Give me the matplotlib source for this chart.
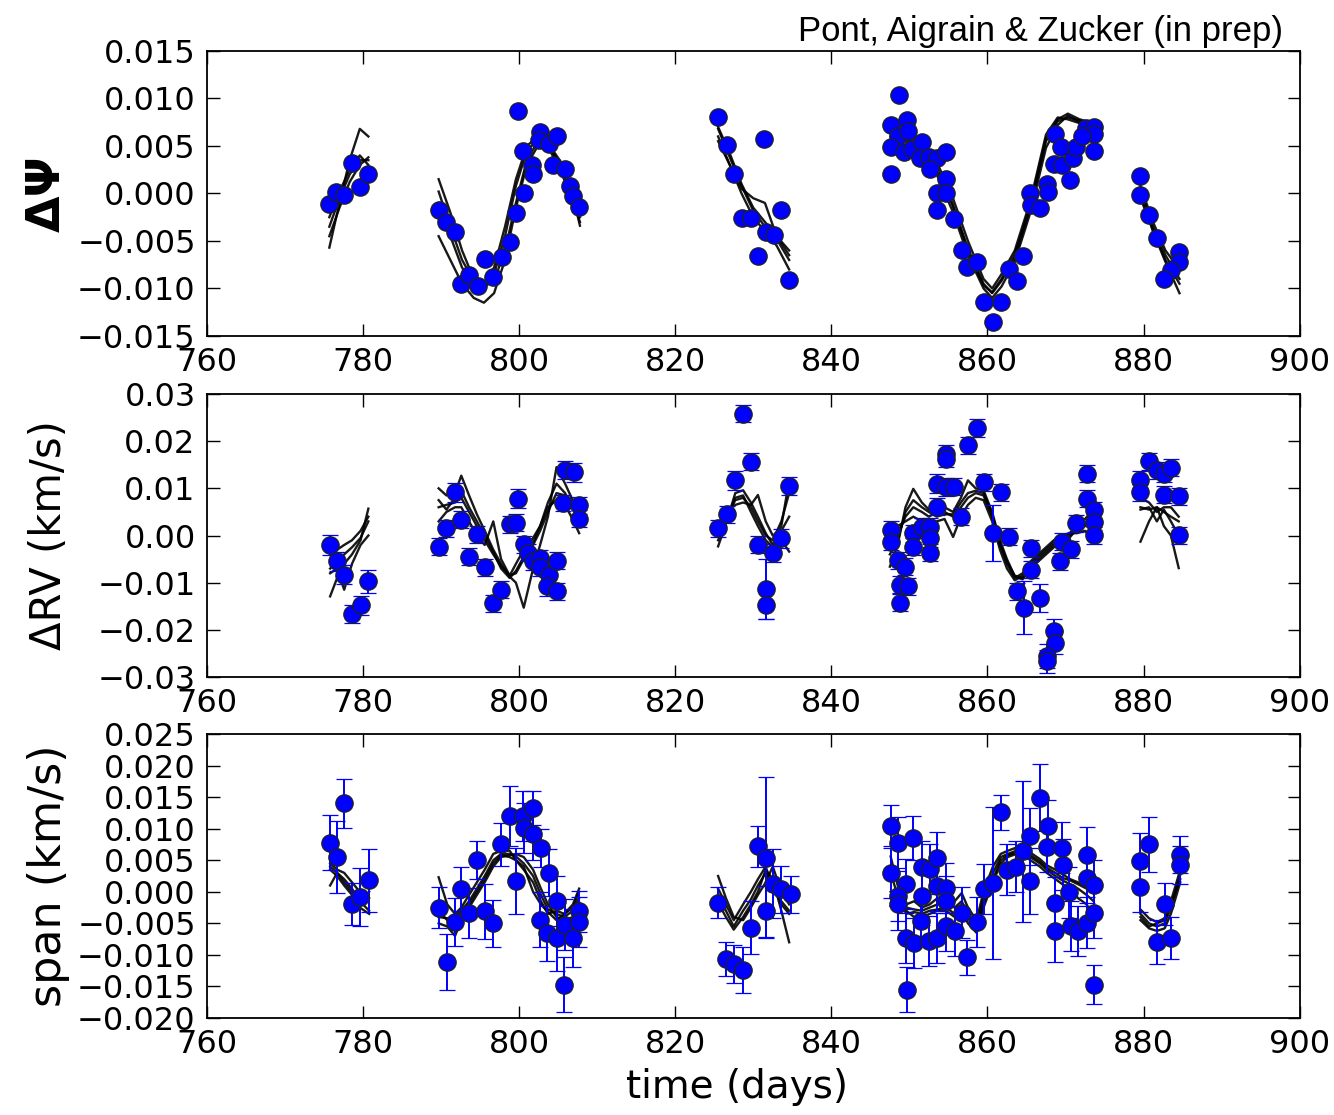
import matplotlib
matplotlib.use("Agg")
import matplotlib.pyplot as plt
from matplotlib.ticker import FuncFormatter

# ---------------- data ----------------
# top panel: Delta Psi (no error bars)
psi_t = [775.7, 776.6, 777.6, 778.6, 779.6, 780.7,
         789.7, 790.7, 791.8, 792.6, 793.6, 794.7, 795.6, 796.7, 797.8, 798.8, 799.6, 799.9, 800.6,
         800.5, 801.6, 801.8, 802.7, 802.6, 803.8, 804.8, 804.4, 805.9, 806.5, 806.9, 807.7,
         825.5, 826.6, 827.5, 828.6, 829.7, 830.6, 831.4, 831.6, 832.6, 833.6, 834.6,
         848.7, 847.6, 849.7, 848.5, 849.8, 847.6, 849.3, 847.6, 850.3, 851.6, 851.4, 852.5,
         853.6, 854.7, 852.7, 854.7, 853.6, 854.7, 853.6, 855.7, 856.7, 857.4, 858.6, 859.6,
         861.7, 860.7, 862.8, 863.8, 864.6, 865.5, 865.6, 866.7, 868.7, 869.4, 868.5, 869.6,
         867.6, 867.7, 870.9, 870.6, 871.4, 872.6, 873.6, 873.6, 873.6, 872.1,
         879.6, 879.6, 880.7, 881.7, 884.5, 884.5, 883.5, 882.6]
psi_v = [-0.0011, 0.0002, -0.0002, 0.0032, 0.0007, 0.0021,
         -0.0017, -0.0030, -0.0041, -0.0095, -0.0086, -0.0097, -0.0069, -0.0088, -0.0067, -0.0051,
         -0.0021, 0.0087, 0.0000, 0.0045, 0.0030, 0.0021, 0.0065, 0.0056, 0.0052, 0.0061, 0.0030,
         0.0026, 0.0008, -0.0003, -0.0014,
         0.0081, 0.0051, 0.0020, -0.0026, -0.0026, -0.0066, 0.0057, -0.0041, -0.0044, -0.0017, -0.0091,
         0.0104, 0.0072, 0.0077, 0.0061, 0.0066, 0.0049, 0.0044, 0.0020, 0.0047, 0.0054, 0.0037, 0.0038,
         0.0037, 0.0044, 0.0026, 0.0015, 0.0000, 0.0000, -0.0017, -0.0027, -0.0060, -0.0077, -0.0072,
         -0.0114, -0.0114, -0.0135, -0.0079, -0.0092, -0.0066, 0.0001, -0.0012, -0.0015, 0.0063,
         0.0049, 0.0031, 0.0030, 0.0010, 0.0002, 0.0037, 0.0014, 0.0049, 0.0069, 0.0070, 0.0063,
         0.0045, 0.0061,
         0.0018, -0.0002, -0.0023, -0.0047, -0.0062, -0.0072, -0.0081, -0.0090]

# middle panel: Delta RV (km/s)
rv_t = [775.8, 776.7, 777.6, 778.6, 779.7, 780.7,
        789.7, 790.7, 791.8, 792.6, 793.6, 794.6, 795.6, 796.7, 797.7, 798.8, 799.6, 799.9, 800.6,
        801.2, 801.8, 802.7, 802.7, 803.8, 803.6, 804.8, 804.8, 805.6, 805.9, 807.0, 807.7, 807.7,
        825.5, 826.6, 827.7, 828.7, 829.7, 830.6, 831.6, 831.6, 832.5, 833.6, 834.6,
        847.6, 847.6, 848.6, 849.5, 848.8, 849.8, 848.8, 850.5, 850.5, 851.6, 852.6, 852.6, 852.6,
        853.6, 853.6, 854.7, 855.7, 854.7, 854.7, 856.6, 857.5, 858.6, 859.6, 861.7, 860.7, 862.7,
        863.8, 864.7, 865.6, 865.6, 866.7, 868.5, 868.6, 867.6, 867.6, 869.3, 869.5, 870.7, 871.4,
        872.7, 872.7, 873.6, 873.6, 873.6,
        879.6, 879.6, 880.7, 881.7, 882.6, 883.5, 882.6, 884.5, 884.5]
rv_v = [-0.0020, -0.0055, -0.0083, -0.0166, -0.0148, -0.0097,
        -0.0024, 0.0015, 0.0092, 0.0033, -0.0045, 0.0003, -0.0067, -0.0144, -0.0115, 0.0024, 0.0027,
        0.0078, -0.0018, -0.0037, -0.0055, -0.0048, -0.0067, -0.0083, -0.0108, -0.0053, -0.0118,
        0.0069, 0.0139, 0.0134, 0.0064, 0.0036,
        0.0015, 0.0045, 0.0117, 0.0258, 0.0156, -0.0020, -0.0113, -0.0148, -0.0037, -0.0006, 0.0105,
        0.0012, -0.0013, -0.0052, -0.0066, -0.0104, -0.0108, -0.0143, 0.0005, -0.0024, 0.0019, 0.0019,
        -0.0006, -0.0037, 0.0061, 0.0110, 0.0103, 0.0103, 0.0173, 0.0163, 0.0040, 0.0191, 0.0228,
        0.0113, 0.0092, 0.0005, -0.0003, -0.0118, -0.0153, -0.0027, -0.0073, -0.0132, -0.0202,
        -0.0227, -0.0255, -0.0267, -0.0055, -0.0013, -0.0029, 0.0026, 0.0131, 0.0078, 0.0054,
        0.0029, 0.0001,
        0.0118, 0.0092, 0.0157, 0.0138, 0.0131, 0.0144, 0.0087, 0.0083, 0.0001]
rv_e = [0.0021, 0.0020, 0.0020, 0.0019, 0.0020, 0.0024,
        0.0018, 0.0018, 0.0020, 0.0018, 0.0018, 0.0018, 0.0018, 0.0018, 0.0018, 0.0018, 0.0018,
        0.0020, 0.0018, 0.0018, 0.0018, 0.0018, 0.0018, 0.0018, 0.0020, 0.0018, 0.0018,
        0.0018, 0.0020, 0.0020, 0.0018, 0.0018,
        0.0018, 0.0018, 0.0020, 0.0018, 0.0018, 0.0018, 0.0064, 0.0030, 0.0020, 0.0020, 0.0020,
        0.0018, 0.0018, 0.0018, 0.0018, 0.0018, 0.0018, 0.0018, 0.0018, 0.0018, 0.0018, 0.0018,
        0.0018, 0.0018, 0.0018, 0.0020, 0.0020, 0.0018, 0.0020, 0.0018, 0.0018, 0.0018, 0.0020,
        0.0018, 0.0018, 0.0060, 0.0018, 0.0018, 0.0056, 0.0018, 0.0018, 0.0030, 0.0025,
        0.0025, 0.0025, 0.0025, 0.0018, 0.0018, 0.0018, 0.0018, 0.0018, 0.0018, 0.0018,
        0.0018, 0.0018,
        0.0018, 0.0018, 0.0018, 0.0018, 0.0018, 0.0018, 0.0018, 0.0018, 0.0018]

# bottom panel: bisector span (km/s)
sp_t = [775.8, 776.7, 777.6, 778.6, 779.6, 780.8,
        789.7, 790.8, 791.8, 792.6, 793.6, 794.6, 795.6, 796.7, 797.7, 798.8, 799.6, 800.5, 800.6,
        801.8, 801.8, 802.8, 803.9, 804.8, 802.7, 803.6, 804.8, 805.7, 805.9, 806.9, 807.7, 807.7,
        825.5, 826.5, 827.5, 828.7, 829.7, 830.6, 831.6, 831.6, 832.5, 833.6, 834.8,
        847.7, 847.6, 848.6, 850.5, 849.6, 848.6, 848.6, 849.6, 850.6, 849.7, 851.5, 851.6, 851.6,
        852.6, 853.6, 852.5, 853.6, 853.6, 854.7, 854.7, 854.7, 855.8, 856.7, 857.4, 858.6, 859.5,
        860.7, 861.7, 862.5, 863.7, 864.6, 865.5, 865.5, 866.7, 867.7, 867.6, 869.5, 869.7, 868.7,
        868.7, 870.5, 870.7, 871.6, 872.7, 872.7, 872.8, 873.6, 873.6, 873.6,
        879.6, 880.7, 879.6, 881.7, 882.7, 883.5, 884.7, 884.7]
sp_v = [0.0078, 0.0055, 0.0140, -0.0019, -0.0008, 0.0018,
        -0.0025, -0.0111, -0.0048, 0.0005, -0.0034, 0.0050, -0.0031, -0.0050, 0.0075, 0.0120, 0.0017,
        0.0120, 0.0101, 0.0133, 0.0091, 0.0070, 0.0030, -0.0015, -0.0044, -0.0066, -0.0073, -0.0147,
        -0.0052, -0.0073, -0.0031, -0.0048,
        -0.0017, -0.0107, -0.0115, -0.0124, -0.0057, 0.0072, 0.0054, -0.0031, 0.0013, 0.0004, -0.0004,
        0.0105, 0.0030, 0.0078, 0.0085, 0.0012, -0.0007, -0.0020, -0.0073, -0.0081, -0.0155, -0.0046,
        -0.0007, 0.0040, 0.0036, 0.0054, -0.0078, -0.0073, 0.0009, 0.0006, -0.0015, -0.0054, -0.0062,
        -0.0033, -0.0104, -0.0048, 0.0004, 0.0014, 0.0126, 0.0035, 0.0040, 0.0064, 0.0088, 0.0017,
        0.0149, 0.0105, 0.0071, 0.0070, 0.0043, -0.0017, -0.0062, -0.0001, -0.0054, -0.0062, 0.0059,
        0.0022, -0.0049, 0.0010, -0.0033, -0.0147,
        0.0048, 0.0075, 0.0008, -0.0080, -0.0019, -0.0073, 0.0059, 0.0042]
sp_e = [0.0043, 0.0057, 0.0039, 0.0033, 0.0046, 0.0050,
        0.0032, 0.0044, 0.0038, 0.0035, 0.0040, 0.0030, 0.0044, 0.0037, 0.0034, 0.0047, 0.0053,
        0.0040, 0.0040, 0.0027, 0.0040, 0.0030, 0.0037, 0.0040, 0.0043, 0.0043, 0.0053, 0.0044,
        0.0040, 0.0046, 0.0033, 0.0040,
        0.0024, 0.0027, 0.0030, 0.0037, 0.0042, 0.0033, 0.0128, 0.0040, 0.0054, 0.0037, 0.0029,
        0.0032, 0.0040, 0.0040, 0.0035, 0.0040, 0.0040, 0.0040, 0.0040, 0.0040, 0.0036, 0.0040,
        0.0045, 0.0040, 0.0040, 0.0040, 0.0040, 0.0040, 0.0040, 0.0040, 0.0040, 0.0040, 0.0040,
        0.0040, 0.0028, 0.0040, 0.0040, 0.0120, 0.0028, 0.0040, 0.0040, 0.0112, 0.0045, 0.0053,
        0.0053, 0.0040, 0.0040, 0.0040, 0.0040, 0.0040, 0.0049, 0.0040, 0.0040, 0.0040, 0.0043,
        0.0040, 0.0040, 0.0040, 0.0040, 0.0031,
        0.0045, 0.0044, 0.0040, 0.0035, 0.0033, 0.0033, 0.0030, 0.0030]

# model realisations, one list per observing season
psi_knots = [[775.7, 777.0, 778.3, 779.6, 780.7],
             [789.7, 791.2, 792.7, 794.2, 795.5, 796.8, 798.2, 799.6, 801.0, 802.4, 803.8, 805.2, 806.6, 807.8],
             [825.5, 827.0, 828.5, 830.0, 831.5, 833.0, 834.6],
             [847.6, 849.5, 851.5, 853.5, 855.5, 857.5, 859.5, 860.6, 861.8, 863.5, 865.5, 867.5, 869.0,
              870.3, 871.8, 873.6],
             [879.6, 881.2, 882.8, 884.6]]
psi_models = [
    [[-0.0035, -0.0005, 0.0020, 0.0035, 0.0035],
     [-0.0010, -0.0045, -0.0078, -0.0097, -0.0100, -0.0085, -0.0045, 0.0008, 0.0045, 0.0057, 0.0050, 0.0030, 0.0005, -0.0025],
     [0.0068, 0.0038, 0.0008, -0.0018, -0.0035, -0.0048, -0.0070],
     [0.0066, 0.0060, 0.0048, 0.0027, -0.0010, -0.0058, -0.0095, -0.0105, -0.0092, -0.0068, -0.0015, 0.0055, 0.0076, 0.0080, 0.0077, 0.0072],
     [0.0005, -0.0035, -0.0065, -0.0090]],
    [[-0.0045, -0.0015, 0.0012, 0.0030, 0.0038],
     [0.0015, -0.0020, -0.0060, -0.0090, -0.0098, -0.0092, -0.0060, -0.0010, 0.0035, 0.0055, 0.0052, 0.0035, 0.0010, -0.0020],
     [0.0060, 0.0030, 0.0000, -0.0025, -0.0040, -0.0055, -0.0080],
     [0.0060, 0.0055, 0.0042, 0.0020, -0.0018, -0.0065, -0.0100, -0.0110, -0.0098, -0.0072, -0.0020, 0.0048, 0.0072, 0.0082, 0.0075, 0.0068],
     [0.0000, -0.0040, -0.0072, -0.0105]],
    [[-0.0057, -0.0010, 0.0035, 0.0068, 0.0060],
     [-0.0045, -0.0070, -0.0095, -0.0110, -0.0115, -0.0105, -0.0070, -0.0015, 0.0030, 0.0050, 0.0050, 0.0032, 0.0008, -0.0034],
     [0.0055, 0.0030, 0.0005, -0.0005, -0.0010, -0.0045, -0.0065],
     [0.0070, 0.0063, 0.0052, 0.0033, -0.0003, -0.0050, -0.0090, -0.0100, -0.0085, -0.0060, -0.0008, 0.0062, 0.0080, 0.0078, 0.0074, 0.0070],
     [0.0008, -0.0030, -0.0060, -0.0080]],
    [[-0.0025, 0.0002, 0.0025, 0.0040, 0.0030],
     [0.0002, -0.0035, -0.0070, -0.0092, -0.0095, -0.0078, -0.0035, 0.0015, 0.0050, 0.0060, 0.0048, 0.0025, 0.0000, -0.0030],
     [0.0070, 0.0042, 0.0010, -0.0015, -0.0030, -0.0045, -0.0060],
     [0.0064, 0.0058, 0.0046, 0.0025, -0.0012, -0.0060, -0.0097, -0.0104, -0.0090, -0.0064, -0.0012, 0.0058, 0.0078, 0.0084, 0.0078, 0.0074],
     [-0.0005, -0.0038, -0.0070, -0.0095]],
]

rv_knots = [[775.8, 776.7, 777.6, 778.6, 779.7, 780.7],
            [789.7, 790.7, 791.8, 792.6, 793.6, 794.6, 795.6, 796.7, 797.7, 798.8, 799.6, 800.6, 801.8,
             802.7, 803.7, 804.8, 805.9, 807.0, 807.7],
            [825.5, 826.6, 827.7, 828.7, 829.7, 830.6, 831.6, 832.5, 833.6, 834.6],
            [847.5, 848.5, 849.5, 850.5, 851.6, 852.5, 853.5, 854.5, 855.6, 856.6, 857.5, 858.5, 859.5,
             860.6, 861.6, 862.5, 863.5, 864.5, 865.5, 866.5, 867.5, 868.5, 869.5, 870.5, 871.5, 872.5, 873.5],
            [879.6, 880.7, 881.7, 882.6, 883.5, 884.5]]
rv_models = [
    [[-0.0070, -0.0055, -0.0040, -0.0025, -0.0005, 0.0030],
     [0.0060, 0.0065, 0.0070, 0.0080, 0.0050, 0.0020, -0.0010, -0.0040, -0.0065, -0.0085, -0.0080, -0.0050, -0.0020, 0.0010, 0.0050, 0.0090, 0.0085, 0.0060, 0.0035],
     [0.0000, 0.0040, 0.0075, 0.0080, 0.0060, 0.0030, 0.0000, -0.0010, 0.0030, 0.0090],
     [-0.0020, 0.0000, 0.0040, 0.0060, 0.0050, 0.0040, 0.0050, 0.0050, 0.0040, 0.0060, 0.0080, 0.0090, 0.0085, 0.0040, -0.0020, -0.0060, -0.0090, -0.0080, -0.0060, -0.0045, -0.0030, -0.0015, -0.0005, 0.0000, 0.0010, 0.0020, 0.0030],
     [0.0060, 0.0055, 0.0060, 0.0050, 0.0040, 0.0030]],
    [[-0.0129, -0.0090, -0.0060, -0.0040, -0.0010, 0.0057],
     [0.0100, 0.0085, 0.0090, 0.0127, 0.0085, 0.0045, 0.0010, -0.0030, -0.0060, -0.0087, -0.0100, -0.0153, -0.0070, -0.0020, 0.0040, 0.0145, 0.0110, 0.0070, 0.0030],
     [-0.0023, 0.0030, 0.0090, 0.0096, 0.0070, 0.0040, 0.0005, -0.0020, 0.0020, 0.0117],
     [-0.0066, -0.0020, 0.0060, 0.0099, 0.0070, 0.0055, 0.0065, 0.0060, 0.0050, 0.0080, 0.0117, 0.0100, 0.0096, 0.0050, -0.0010, -0.0050, -0.0087, -0.0093, -0.0065, -0.0050, -0.0035, -0.0020, -0.0003, 0.0005, 0.0020, 0.0035, 0.0054],
     [0.0080, 0.0070, 0.0050, 0.0060, 0.0060, 0.0040]],
    [[-0.0040, -0.0030, -0.0020, -0.0010, 0.0010, 0.0040],
     [0.0030, 0.0050, 0.0060, 0.0060, 0.0030, 0.0000, -0.0020, 0.0030, -0.0050, -0.0085, -0.0060, -0.0030, -0.0005, 0.0020, 0.0060, 0.0075, 0.0065, 0.0030, 0.0005],
     [0.0010, 0.0050, 0.0065, 0.0070, 0.0065, 0.0086, 0.0030, 0.0000, 0.0010, 0.0040],
     [0.0010, 0.0020, 0.0030, 0.0040, 0.0030, 0.0020, 0.0030, 0.0035, -0.0003, 0.0040, 0.0065, 0.0080, 0.0075, 0.0030, -0.0030, -0.0070, -0.0095, -0.0085, -0.0055, -0.0040, -0.0025, -0.0010, 0.0000, 0.0005, 0.0005, 0.0010, -0.0010],
     [-0.0013, 0.0030, 0.0060, 0.0020, 0.0000, -0.0069]],
    [[-0.0080, -0.0070, -0.0115, -0.0060, -0.0020, 0.0000],
     [0.0075, 0.0055, 0.0080, 0.0095, 0.0060, 0.0030, 0.0000, -0.0035, -0.0070, -0.0090, -0.0075, -0.0045, -0.0015, 0.0020, 0.0070, 0.0110, 0.0090, 0.0055, 0.0020],
     [-0.0010, 0.0035, 0.0080, 0.0085, 0.0050, 0.0020, -0.0010, -0.0025, -0.0010, -0.0034],
     [-0.0040, -0.0010, 0.0050, 0.0075, 0.0060, 0.0050, 0.0040, 0.0045, 0.0045, 0.0070, 0.0090, 0.0095, 0.0090, 0.0045, -0.0015, -0.0055, -0.0085, -0.0090, -0.0070, -0.0055, -0.0040, -0.0025, -0.0010, -0.0005, 0.0015, 0.0025, 0.0045],
     [0.0055, 0.0060, 0.0030, 0.0055, 0.0030, 0.0000]],
]

sp_knots = [[775.8, 776.7, 777.6, 778.6, 779.6, 780.8],
            [789.7, 790.8, 791.8, 792.6, 793.6, 794.6, 795.6, 796.7, 797.7, 798.8, 799.6, 800.6, 801.8,
             802.8, 803.7, 804.8, 805.8, 806.9, 807.7],
            [825.5, 826.5, 827.5, 828.7, 829.7, 830.6, 831.6, 832.5, 833.6, 834.6],
            [847.6, 848.6, 849.6, 850.6, 851.6, 852.6, 853.6, 854.7, 855.8, 856.7, 857.5, 858.6, 859.5,
             860.7, 861.7, 862.6, 863.7, 864.6, 865.5, 866.7, 867.6, 868.7, 869.6, 870.6, 871.6, 872.7, 873.6],
            [879.6, 880.7, 881.7, 882.7, 883.5, 884.7]]
sp_models = [
    [[0.0040, 0.0030, 0.0020, 0.0005, -0.0015, -0.0030],
     [-0.0040, -0.0042, -0.0040, -0.0030, -0.0015, 0.0005, 0.0025, 0.0050, 0.0060, 0.0060, 0.0056, 0.0045, 0.0025, -0.0005, -0.0028, -0.0035, -0.0040, -0.0030, -0.0010],
     [-0.0005, -0.0030, -0.0055, -0.0030, -0.0012, 0.0010, 0.0030, 0.0010, -0.0020, -0.0035],
     [0.0000, -0.0015, -0.0025, -0.0028, -0.0030, -0.0025, -0.0020, -0.0018, -0.0025, -0.0015, -0.0035, -0.0055, -0.0010, 0.0030, 0.0055, 0.0060, 0.0065, 0.0065, 0.0058, 0.0048, 0.0038, 0.0030, 0.0022, 0.0018, 0.0012, 0.0005, 0.0000],
     [-0.0035, -0.0050, -0.0055, -0.0050, -0.0025, 0.0027]],
    [[0.0035, 0.0025, 0.0010, -0.0005, -0.0025, -0.0035],
     [-0.0050, -0.0055, -0.0070, -0.0045, -0.0025, -0.0005, 0.0015, 0.0040, 0.0055, 0.0058, 0.0060, 0.0055, 0.0035, 0.0005, -0.0020, -0.0040, -0.0045, -0.0040, -0.0017],
     [0.0025, -0.0010, -0.0040, -0.0045, -0.0025, -0.0005, 0.0015, 0.0040, 0.0000, -0.0020],
     [0.0056, 0.0005, -0.0030, -0.0040, -0.0040, -0.0035, -0.0030, -0.0030, -0.0040, -0.0030, -0.0050, -0.0065, -0.0025, 0.0015, 0.0045, 0.0055, 0.0060, 0.0058, 0.0050, 0.0040, 0.0030, 0.0020, 0.0012, 0.0005, -0.0010, -0.0020, -0.0038],
     [-0.0045, -0.0058, -0.0062, -0.0058, -0.0035, 0.0015]],
    [[0.0045, 0.0035, 0.0030, 0.0015, 0.0000, -0.0010],
     [0.0023, -0.0020, -0.0035, -0.0025, -0.0005, 0.0015, 0.0035, 0.0060, 0.0065, 0.0065, 0.0050, 0.0035, 0.0015, -0.0015, -0.0035, -0.0030, -0.0035, -0.0025, 0.0000],
     [-0.0017, -0.0040, -0.0060, -0.0040, -0.0020, 0.0000, 0.0035, 0.0020, -0.0030, -0.0080],
     [-0.0023, -0.0030, -0.0020, -0.0015, -0.0025, -0.0020, -0.0010, -0.0005, -0.0015, -0.0002, -0.0025, -0.0045, 0.0000, 0.0040, 0.0060, 0.0065, 0.0070, 0.0072, 0.0062, 0.0052, 0.0042, 0.0035, 0.0028, 0.0020, 0.0015, 0.0008, 0.0004],
     [-0.0028, -0.0042, -0.0048, -0.0042, -0.0015, 0.0035]],
    [[0.0010, 0.0030, 0.0015, 0.0000, -0.0020, 0.0000],
     [-0.0030, -0.0045, -0.0050, -0.0035, -0.0020, 0.0000, 0.0020, 0.0045, 0.0058, 0.0055, 0.0050, 0.0040, 0.0000, -0.0020, -0.0032, -0.0045, -0.0035, -0.0020, 0.0005],
     [0.0005, -0.0020, -0.0045, -0.0020, 0.0000, 0.0020, 0.0040, 0.0005, -0.0015, -0.0030],
     [0.0030, -0.0010, -0.0035, -0.0032, -0.0035, -0.0030, -0.0028, -0.0025, -0.0035, -0.0020, -0.0040, -0.0060, -0.0018, 0.0020, 0.0050, 0.0058, 0.0062, 0.0060, 0.0055, 0.0045, 0.0035, 0.0025, 0.0018, 0.0012, 0.0005, -0.0005, -0.0015],
     [-0.0040, -0.0055, -0.0050, -0.0045, -0.0020, 0.0020]],
]

x_ticks = [760, 780, 800, 820, 840, 860, 880, 900]
psi_ticks = [-0.015, -0.010, -0.005, 0.0, 0.005, 0.010, 0.015]
rv_ticks = [-0.03, -0.02, -0.01, 0.0, 0.01, 0.02, 0.03]
sp_ticks = [-0.020, -0.015, -0.010, -0.005, 0.0, 0.005, 0.010, 0.015, 0.020, 0.025]

TICK_FS = 23


def fmt(decimals):
    def f(v, pos):
        s = f"{v:.{decimals}f}"
        if s.startswith("-") and float(s) == 0:
            s = s[1:]
        return s.replace("-", "\u2212")
    return FuncFormatter(f)


def draw_models(ax, knots, models):
    for curve in models:
        for kt, kv in zip(knots, curve):
            ax.plot(kt, kv, color="black", lw=1.7, alpha=0.9, zorder=2)


def style(ax, yticks, decimals):
    ax.set_xlim(760, 900)
    ax.set_xticks(x_ticks)
    ax.set_ylim(yticks[0], yticks[-1])
    ax.set_yticks(yticks)
    ax.yaxis.set_major_formatter(fmt(decimals))
    ax.tick_params(direction="in", top=True, right=True, length=9, width=1,
                   labelsize=TICK_FS, pad=8)
    for sp in ax.spines.values():
        sp.set_linewidth(1.3)


fig = plt.figure(figsize=(13.34, 11.15), dpi=100)
left, width = 0.155, 0.8193
ax1 = fig.add_axes([left, 0.6987, width, 0.2556])
ax2 = fig.add_axes([left, 0.3928, width, 0.2538])
ax3 = fig.add_axes([left, 0.0870, width, 0.2547])

mk = dict(marker="o", ms=12.5, mfc="blue", mec="#202020", mew=0.9)

draw_models(ax1, psi_knots, psi_models)
ax1.plot(psi_t, psi_v, ls="none", zorder=3, **mk)
style(ax1, psi_ticks, 3)
ax1.set_ylabel("\u0394\u03a8", fontsize=34, fontweight="bold")

draw_models(ax2, rv_knots, rv_models)
ax2.errorbar(rv_t, rv_v, yerr=rv_e, ls="none", ecolor="blue", elinewidth=1.4,
             capsize=6, capthick=1.4, zorder=3, **mk)
style(ax2, rv_ticks, 2)
ax2.set_ylabel("\u0394RV (km/s)", fontsize=30)

draw_models(ax3, sp_knots, sp_models)
ax3.errorbar(sp_t, sp_v, yerr=sp_e, ls="none", ecolor="blue", elinewidth=1.4,
             capsize=6, capthick=1.4, zorder=3, **mk)
style(ax3, sp_ticks, 3)
ax3.set_ylabel("span (km/s)", fontsize=32)
ax3.set_xlabel("time (days)", fontsize=28)

for ax in (ax1, ax2, ax3):
    ax.yaxis.set_label_coords(-0.125, 0.5)
ax3.xaxis.set_label_coords(0.485, -0.175)

fig.text(1283 / 1334, 1 - 31 / 1115, "Pont, Aigrain & Zucker (in prep)",
         ha="right", va="center", fontsize=25, family="Liberation Sans")

fig.savefig("out.png", dpi=100)
